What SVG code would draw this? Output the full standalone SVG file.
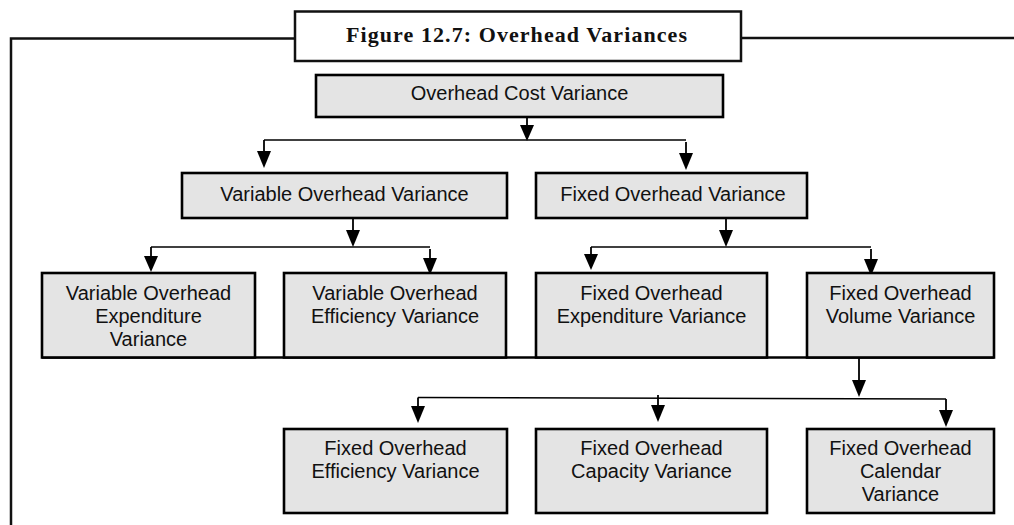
<svg xmlns="http://www.w3.org/2000/svg" width="1014" height="525" viewBox="0 0 1014 525">
<defs>
<style>
.frame{fill:none;stroke:#111;stroke-width:2.5}
.box{fill:#e4e4e4;stroke:#000;stroke-width:2.6}
.tbox{fill:#fff;stroke:#111;stroke-width:2.5}
.lbl{font-family:"Liberation Sans",Arial,sans-serif;font-size:20px;fill:#111;text-anchor:middle}
.title{font-family:"Liberation Serif","Times New Roman",serif;font-size:22px;font-weight:bold;fill:#111}
.con{fill:none;stroke:#000;stroke-width:1.8}
.conh{fill:none;stroke:#000;stroke-width:1.5}
.ah{fill:#000}
</style>
</defs>
<rect width="1014" height="525" fill="#fff"/>
<g id="frame">
<polyline class="frame" points="11,525 11,38.5 295,38.5"/>
<line class="frame" x1="741" y1="38" x2="1014" y2="38"/>
<rect id="title-box" class="tbox" x="295" y="11.5" width="446" height="49.5"/>
<text class="title" x="346" y="41.5" textLength="341" lengthAdjust="spacing">Figure 12.7: Overhead Variances</text>
</g>
<g id="connectors">
<line class="conh" x1="42" y1="357.5" x2="994" y2="357.5" style="stroke-width:2.6"/>
<g>
<line class="con" x1="527" y1="117" x2="527" y2="126"/>
<polygon class="ah" points="520,125 534,125 527,141"/>
<line class="conh" x1="264" y1="140" x2="686" y2="140"/>
<line class="con" x1="264" y1="140" x2="264" y2="152"/>
<polygon class="ah" points="257,151 271,151 264,168"/>
<line class="con" x1="686" y1="142" x2="686" y2="154"/>
<polygon class="ah" points="679,153 693,153 686,170"/>
</g>
<g>
<line class="con" x1="353" y1="219" x2="353" y2="231"/>
<polygon class="ah" points="346,230 360,230 353,247"/>
<line class="conh" x1="151" y1="247" x2="430" y2="247"/>
<line class="con" x1="151" y1="247" x2="151" y2="258"/>
<polygon class="ah" points="144,256 158,256 151,272"/>
<line class="con" x1="430" y1="249" x2="430" y2="260"/>
<polygon class="ah" points="423,258 437,258 430,275"/>
</g>
<g>
<line class="con" x1="726" y1="219" x2="726" y2="231"/>
<polygon class="ah" points="719,230 733,230 726,247"/>
<line class="conh" x1="591" y1="247" x2="871" y2="247"/>
<line class="con" x1="591" y1="247" x2="591" y2="256"/>
<polygon class="ah" points="584,254 598,254 591,270"/>
<line class="con" x1="871" y1="249" x2="871" y2="261"/>
<polygon class="ah" points="864,259 878,259 871,276"/>
</g>
<g>
<line class="con" x1="859" y1="358" x2="859" y2="381"/>
<polygon class="ah" points="852,380 866,380 859,397"/>
<line class="conh" x1="418" y1="397.5" x2="946" y2="399"/>
<line class="con" x1="418" y1="397.5" x2="418" y2="408"/>
<polygon class="ah" points="411,406 425,406 418,423"/>
<line class="con" x1="658" y1="395" x2="658" y2="407"/>
<polygon class="ah" points="651,405 665,405 658,422"/>
<line class="con" x1="946" y1="399" x2="946" y2="411"/>
<polygon class="ah" points="939,410 953,410 946,427"/>
</g>
</g>
<g id="n-ocv">
<rect class="box" x="316" y="75" width="407" height="42"/>
<text class="lbl" x="519.5" y="100">Overhead Cost Variance</text>
</g>
<g id="n-vov">
<rect class="box" x="182" y="173" width="325" height="45"/>
<text class="lbl" x="344.5" y="201">Variable Overhead Variance</text>
</g>
<g id="n-fov">
<rect class="box" x="536" y="173" width="271" height="45"/>
<text class="lbl" x="673" y="201">Fixed Overhead Variance</text>
</g>
<g id="n-voev">
<rect class="box" x="42" y="273" width="213" height="84.5"/>
<text class="lbl" x="148.5" y="300">Variable Overhead</text>
<text class="lbl" x="148.5" y="323">Expenditure</text>
<text class="lbl" x="148.5" y="345.5">Variance</text>
</g>
<g id="n-voeffv">
<rect class="box" x="284" y="273" width="222" height="84.5"/>
<text class="lbl" x="395" y="300">Variable Overhead</text>
<text class="lbl" x="395" y="323">Efficiency Variance</text>
</g>
<g id="n-foev">
<rect class="box" x="536" y="273" width="231" height="84.5"/>
<text class="lbl" x="651.5" y="300">Fixed Overhead</text>
<text class="lbl" x="651.5" y="323">Expenditure Variance</text>
</g>
<g id="n-fovv">
<rect class="box" x="807" y="273" width="187" height="84.5"/>
<text class="lbl" x="900.5" y="300">Fixed Overhead</text>
<text class="lbl" x="900.5" y="323">Volume Variance</text>
</g>
<g id="n-foeffv">
<rect class="box" x="284" y="429" width="223" height="84"/>
<text class="lbl" x="395.5" y="455">Fixed Overhead</text>
<text class="lbl" x="395.5" y="478">Efficiency Variance</text>
</g>
<g id="n-focapv">
<rect class="box" x="536" y="429" width="231" height="84"/>
<text class="lbl" x="651.5" y="455">Fixed Overhead</text>
<text class="lbl" x="651.5" y="478">Capacity Variance</text>
</g>
<g id="n-focalv">
<rect class="box" x="807" y="429" width="187" height="84"/>
<text class="lbl" x="900.5" y="455">Fixed Overhead</text>
<text class="lbl" x="900.5" y="478">Calendar</text>
<text class="lbl" x="900.5" y="500.5">Variance</text>
</g>
</svg>
